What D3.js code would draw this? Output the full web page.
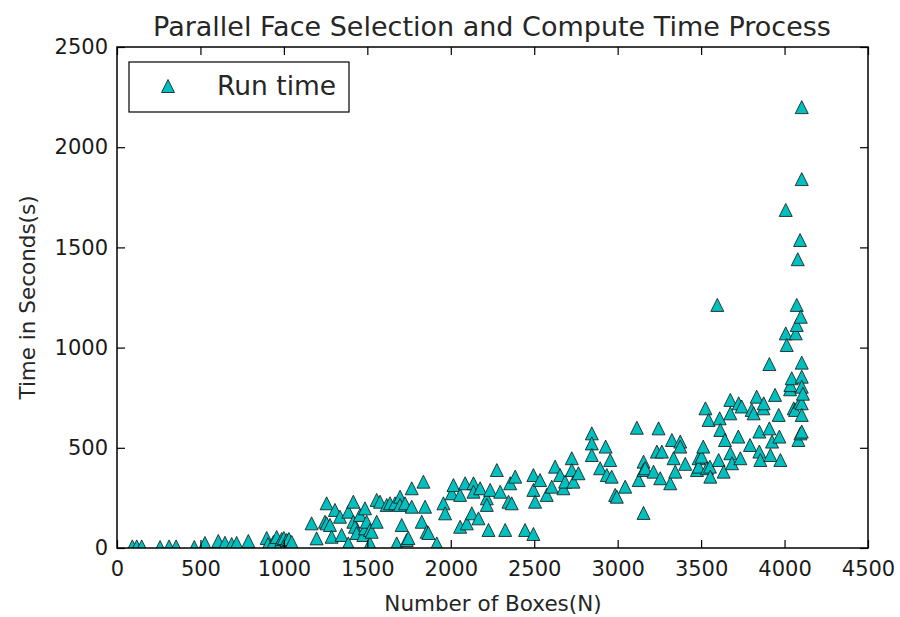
<!DOCTYPE html>
<html>
<head>
<meta charset="utf-8">
<script src="https://cdn.jsdelivr.net/npm/d3@7"></script>
<style>
  html, body { margin: 0; padding: 0; background: #fff; }
  svg { display: block; }
  text { font-family: "DejaVu Sans", sans-serif; fill: #1a1a1a; }
</style>
</head>
<body>
<svg id="chart" width="900" height="617"></svg>
<script>
// ---- data ----
const titleText = "Parallel Face Selection and Compute Time Process";
const xLabelText = "Number of Boxes(N)";
const yLabelText = "Time in Seconds(s)";
const seriesName = "Run time";
const xTicks = [0, 500, 1000, 1500, 2000, 2500, 3000, 3500, 4000, 4500];
const yTicks = [0, 500, 1000, 1500, 2000, 2500];

// [number of boxes, run time in seconds]
const runTimes = [
  [92,8],[118,8],[148,8],[258,5],[312,8],[354,8],[463,5],[527,25],[607,35],[647,26],
  [687,20],[717,25],[787,35],[897,50],[905,20],[937,30],[957,55],[977,22],[987,45],[1000,50],
  [1007,15],[1017,40],[1030,45],[1047,30],
  [1166,123],[1196,48],[1246,131],[1256,223],[1256,123],[1276,115],[1286,56],[1306,190],[1336,156],[1346,65],
  [1386,23],[1386,181],[1416,231],[1416,131],[1426,106],[1436,75],[1456,165],[1476,65],[1486,198],[1486,98],
  [1496,131],[1516,90],[1516,23],[1526,81],[1556,240],[1556,131],[1576,231],[1616,215],[1636,223],[1666,223],
  [1676,23],[1696,256],[1696,215],[1706,115],[1726,223],[1736,40],[1746,50],[1766,298],[1766,206],[1826,131],
  [1836,331],[1846,206],[1856,81],[1866,75],[1916,23],[1956,223],[1966,173],
  [2006,273],[2016,314],[2056,265],[2056,106],[2086,323],[2096,123],[2126,173],[2136,323],[2136,281],[2166,148],
  [2176,298],[2216,248],[2216,215],[2226,90],[2236,290],[2276,389],[2296,281],[2326,90],[2346,231],[2356,323],
  [2365,223],[2386,356],[2445,90],[2495,70],[2495,364],[2495,290],[2505,231],
  [2535,339],[2575,265],[2605,306],[2625,406],[2655,364],[2675,298],[2685,331],[2725,448],[2725,389],[2735,331],
  [2765,373],[2845,572],[2845,522],[2845,464],[2895,398],[2928,506],[2935,364],[2955,439],[2964,356],[2985,265],
  [2995,256],[3045,306],[3115,600],[3126,339],[3155,431],[3155,389],[3155,175],[3165,398],[3215,381],[3235,481],
  [3245,597],[3255,348],[3265,481],[3315,323],[3325,539],[3335,448],[3345,381],[3375,531],[3375,506],[3405,420],
  [3475,389],[3485,448],[3485,406],
  [3503,456],[3513,506],[3526,697],[3535,398],[3545,639],[3553,406],[3555,356],[3597,1213],[3605,439],[3611,647],
  [3615,589],[3635,381],[3643,539],[3675,739],[3675,672],[3675,473],[3685,423],[3723,556],[3725,722],[3743,706],
  [3735,448],[3793,514],[3803,689],[3815,672],[3833,755],[3849,581],[3849,481],[3855,439],[3873,697],[3875,722],
  [3909,918],[3909,597],[3915,464],[3925,531],[3943,764],[3965,664],[3969,556],[3975,439],[4007,1687],[4007,1071],
  [4013,1013],[4033,792],[4035,813],[4043,847],[4055,697],[4063,689],[4067,1071],[4073,1213],[4073,1113],[4079,1441],
  [4083,539],[4093,1537],[4093,730],[4095,572],[4097,1154],[4103,2200],[4103,1841],[4103,925],[4103,855],[4103,805],
  [4103,722],[4103,664],[4103,581],[4110,770]
];

// ---- layout ----
const svg = d3.select("#chart");
const plotL = 117, plotR = 868, plotT = 47, plotB = 548;
const x = d3.scaleLinear().domain([0, 4500]).range([plotL, plotR]);
const y = d3.scaleLinear().domain([0, 2500]).range([plotB, plotT]);
const tickLen = 8;
const markerR = 6.5;
const fillColor = "#00bfbf";
const textColor = "#262626";

function triPath(r) {
  return `M0,${-r}L${r},${r}L${-r},${r}Z`;
}

svg.append("defs").append("clipPath").attr("id", "plotclip")
  .append("rect").attr("x", plotL).attr("y", plotT)
  .attr("width", plotR - plotL).attr("height", plotB - plotT);

// markers
svg.append("g").attr("clip-path", "url(#plotclip)")
  .selectAll("path").data(runTimes).join("path")
  .attr("d", triPath(markerR))
  .attr("transform", d => `translate(${x(d[0])},${y(d[1])})`)
  .attr("fill", fillColor)
  .attr("stroke", "#111")
  .attr("stroke-width", 0.8);

// axes with inward ticks (bottom/left labelled, top/right bare)
const fontTick = 21;
const axB = d3.axisBottom(x).tickValues(xTicks).tickSize(-tickLen).tickPadding(13).tickFormat(d3.format("d"));
const axT = d3.axisTop(x).tickValues(xTicks).tickSize(-tickLen).tickFormat("");
const axL = d3.axisLeft(y).tickValues(yTicks).tickSize(-tickLen).tickPadding(9).tickFormat(d3.format("d"));
const axR = d3.axisRight(y).tickValues(yTicks).tickSize(-tickLen).tickFormat("");

function styleAxis(g) {
  g.select(".domain").remove();
  g.selectAll(".tick line").attr("stroke", "#000").attr("stroke-width", 1.2);
  g.selectAll(".tick text").attr("font-family", "DejaVu Sans").attr("font-size", fontTick).attr("fill", textColor);
}
svg.append("g").attr("transform", `translate(0,${plotB})`).call(axB).call(styleAxis);
svg.append("g").attr("transform", `translate(0,${plotT})`).call(axT).call(styleAxis);
svg.append("g").attr("transform", `translate(${plotL},0)`).call(axL).call(styleAxis);
svg.append("g").attr("transform", `translate(${plotR},0)`).call(axR).call(styleAxis);

// frame
svg.append("rect").attr("x", plotL).attr("y", plotT)
  .attr("width", plotR - plotL).attr("height", plotB - plotT)
  .attr("fill", "none").attr("stroke", "#000").attr("stroke-width", 1.5);

// title and axis labels
svg.append("text").attr("x", 492).attr("y", 36).style("fill", textColor)
  .attr("text-anchor", "middle").attr("font-size", 27).text(titleText);
svg.append("text").attr("x", 493).attr("y", 611).style("fill", textColor)
  .attr("text-anchor", "middle").attr("font-size", 21.5).text(xLabelText);
svg.append("text").attr("transform", `translate(35,${(plotT + plotB) / 2}) rotate(-90)`).style("fill", textColor)
  .attr("text-anchor", "middle").attr("font-size", 21.5).text(yLabelText);

// legend
const lg = svg.append("g");
lg.append("rect").attr("x", 129).attr("y", 62).attr("width", 220).attr("height", 50)
  .attr("fill", "#fff").attr("stroke", "#000").attr("stroke-width", 1.2);
lg.append("path").attr("d", triPath(markerR)).attr("transform", "translate(168,86)")
  .attr("fill", fillColor).attr("stroke", "#111").attr("stroke-width", 0.8);
lg.append("text").attr("x", 217).attr("y", 95).style("fill", textColor).attr("font-size", 26.5).text(seriesName);
</script>
</body>
</html>
